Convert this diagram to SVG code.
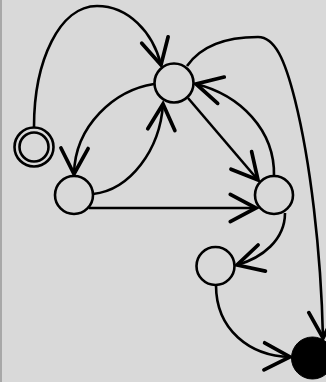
<svg xmlns="http://www.w3.org/2000/svg" width="326" height="382" viewBox="0 0 326 382">
<defs>
<marker id="arr" markerUnits="userSpaceOnUse" markerWidth="40" markerHeight="40" viewBox="-22 -14 26 28" refX="0" refY="0" orient="auto" overflow="visible">
<path d="M-18,-9.5 L0,0 L-18,9.5" fill="none" stroke="#000" stroke-width="2.6" stroke-linecap="round" stroke-linejoin="miter"/>
</marker>
</defs>
<style>
.n{fill:#d9d9d9;stroke:#000;stroke-width:2.6}
.e{fill:none;stroke:#000;stroke-width:2.6;marker-end:url(#arr)}
</style>
<rect x="0" y="0" width="326" height="382" fill="#d9d9d9"/>
<line x1="1" y1="0" x2="1" y2="382" stroke="#a8a8a8" stroke-width="2"/>
<g id="connectors">
<path class="e" d="M34,127 C34,60 60,6 97,6 C128,6 153,32 161,65"/>
<path class="e" d="M154,84 C115,90 75,125 74,174"/>
<path class="e" d="M93,194 C130,190 160,150 163,104"/>
<path class="e" d="M188,98 L258,180"/>
<path class="e" d="M274,176 C275,130 240,95 196,84"/>
<path class="e" d="M89,208 L256,208"/>
<path class="e" d="M187,66 C205,40 240,37 258,37 C275,37 285,60 295,100 C310,160 321,250 323,338"/>
<path class="e" d="M285,213 C285,240 262,258 237,265"/>
<path class="e" d="M216,285 C216,330 250,356 290,357"/>
</g>
<g id="init"><circle class="n" cx="34" cy="147" r="19.5"/><circle class="n" cx="34" cy="147" r="14.5"/></g>
<g id="A"><circle class="n" cx="174" cy="83" r="19.5"/></g>
<g id="B"><circle class="n" cx="74" cy="195" r="19"/></g>
<g id="C"><circle class="n" cx="274" cy="195" r="19"/></g>
<g id="D"><circle class="n" cx="215.5" cy="266" r="19"/></g>
<g id="F"><circle cx="312.5" cy="358" r="21" fill="#000" stroke="#000" stroke-width="1"/></g>
</svg>
